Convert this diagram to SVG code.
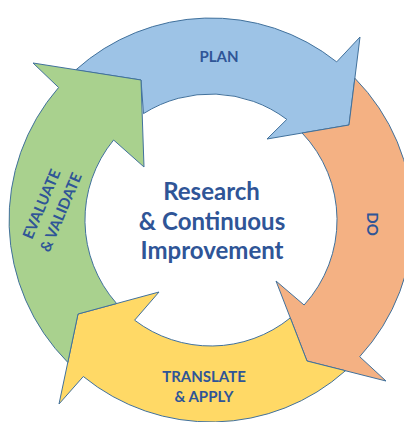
<svg xmlns="http://www.w3.org/2000/svg" width="404" height="422" viewBox="0 0 404 422">
  <style>
    .arrow { stroke: #41719C; stroke-width: 1; stroke-linejoin: miter; }
    .plan { fill: #9DC3E6; }
    .do { fill: #F4B183; }
    .apply { fill: #FFD966; }
    .eval { fill: #A9D18E; }
    .lbl { font-family: Lato, "Open Sans", "Liberation Sans", sans-serif; font-weight: bold; fill: #2F5597; text-anchor: middle; }
    .small { font-size: 15px; }
    .big { font-size: 24px; }
  </style>
  <rect width="404" height="422" fill="#FFFFFF"/>

  <!-- ring of four curved arrows, centre (211,220), outer r 202, inner r 126;
       each tail ends along the edges of the preceding arrowhead -->
  <g id="cycle">
    <g id="plan">
      <path class="arrow plan" d="M75.8,69.9 A202,202 0 0 1 336.7,61.9 L360,37 L349,125 L267,139 L286.8,119.4 A126,126 0 0 0 143.5,113.6 L141,80 Z"/>
      <text class="lbl small" x="219" y="62">PLAN</text>
    </g>
    <g id="do">
      <path class="arrow do" d="M354.85,78.2 A202,202 0 0 1 359.7,356.7 L386,381 L307,361 L276,281 L304.1,305 A126,126 0 0 0 302.1,133 L349,125 Z"/>
      <text class="lbl small" transform="translate(372.5,224) rotate(90)" x="0" y="5.5">DO</text>
    </g>
    <g id="translate-apply">
      <path class="arrow apply" d="M345.5,370.7 A202,202 0 0 1 83.3,376.5 L59,404 L78,314 L159,292 L134.6,320.2 A126,126 0 0 0 290.3,317.9 L307,361 Z"/>
      <text class="lbl small" x="204" y="382">TRANSLATE</text>
      <text class="lbl small" x="204" y="402">&amp; APPLY</text>
    </g>
    <g id="evaluate-validate">
      <path class="arrow eval" d="M67.8,362.4 A202,202 0 0 1 58.6,87.5 L33,63 L141,80 L144,167 L113.6,140 A126,126 0 0 0 116.6,303.5 L78,314 Z"/>
      <g transform="translate(51,208) rotate(-67)">
        <text class="lbl small" x="0" y="-5">EVALUATE</text>
        <text class="lbl small" x="0" y="16">&amp; VALIDATE</text>
      </g>
    </g>
  </g>

  <!-- centre title -->
  <g id="title">
    <text class="lbl big" x="211.5" y="200">Research</text>
    <text class="lbl big" x="212" y="230">&amp; Continuous</text>
    <text class="lbl big" x="212" y="259">Improvement</text>
  </g>
</svg>
